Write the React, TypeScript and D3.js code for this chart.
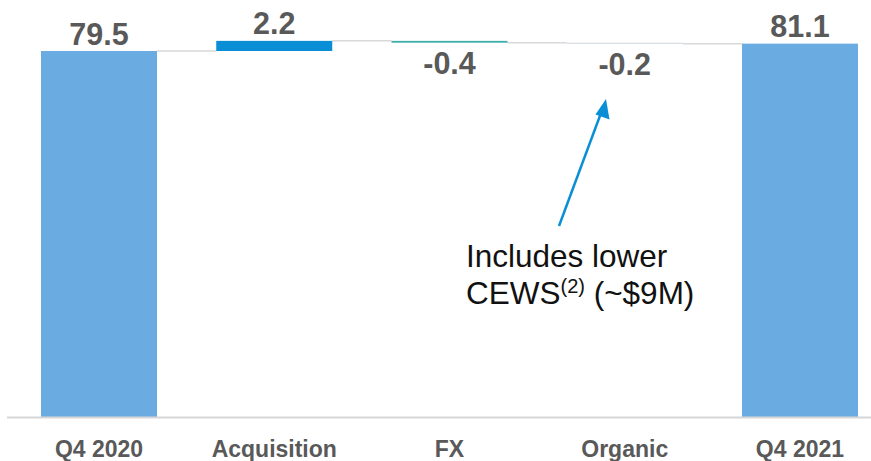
import * as d3 from "d3";

const categories = ["Q4 2020", "Acquisition", "FX", "Organic", "Q4 2021"];
const values = [79.5, 2.2, -0.4, -0.2, 81.1];
const kinds = ["total", "delta", "delta", "delta", "total"];
const labels = ["79.5", "2.2", "-0.4", "-0.2", "81.1"];
const colors = ["#6aabe2", "#0a8fd6", "#3fb0aa", "#d5dde3", "#6aabe2"];

const W = 871;
const H = 461;

export default function App() {
  const x = d3.scaleBand<string>()
    .domain(categories)
    .range([7, 892])
    .paddingInner(0.338)
    .paddingOuter(0.194);

  const y = d3.scaleLinear().domain([0, 79.5]).range([417, 51]);

  // running totals for the waterfall
  let run = 0;
  const bars = categories.map((c, i) => {
    let start, end;
    if (kinds[i] === "total") {
      start = 0;
      end = values[i];
      run = values[i];
    } else {
      start = run;
      end = run + values[i];
      run = end;
    }
    return { c, i, start, end, v: values[i] };
  });

  const labelFont = "'Liberation Sans', Arial, sans-serif";

  return (
    <svg width={W} height={H} style={{ position: "absolute", left: 0, top: 0 }}>
      <rect width={W} height={H} fill="#fff" />
      {/* connectors */}
      {bars.slice(0, -1).map((b, i) => (
        <line
          key={"c" + i}
          x1={x(b.c)! + x.bandwidth()}
          x2={x(categories[i + 1])!}
          y1={y(b.end)}
          y2={y(b.end)}
          stroke="#d9d9d9"
          strokeWidth={1.5}
        />
      ))}
      {bars.map((b) => {
        const y0 = y(Math.max(b.start, b.end));
        const y1 = y(Math.min(b.start, b.end));
        return (
          <rect
            key={b.c}
            x={x(b.c)}
            y={y0}
            width={x.bandwidth()}
            height={Math.max(y1 - y0, 1.2)}
            fill={colors[b.i]}
          />
        );
      })}
      {/* baseline */}
      <line x1={7} x2={W} y1={417.5} y2={417.5} stroke="#d6d6d6" strokeWidth={2} />
      {/* value labels */}
      {bars.map((b) => {
        const cx = x(b.c)! + x.bandwidth() / 2;
        const ty = b.v >= 0 ? y(Math.max(b.start, b.end)) - 6.5 : y(Math.min(b.start, b.end)) + 31.5;
        return (
          <text
            key={"l" + b.c}
            x={cx}
            y={ty}
            textAnchor="middle"
            fontFamily={labelFont}
            fontWeight="bold"
            fontSize={30.5}
            fill="#595959"
          >
            {labels[b.i]}
          </text>
        );
      })}
      {/* category labels */}
      {categories.map((c) => (
        <text
          key={"x" + c}
          x={x(c)! + x.bandwidth() / 2}
          y={457}
          textAnchor="middle"
          fontFamily={labelFont}
          fontWeight="bold"
          fontSize={23}
          fill="#595959"
        >
          {c}
        </text>
      ))}
      {/* annotation */}
      <line x1={559} y1={226} x2={601} y2={113} stroke="#0a8fd6" strokeWidth={2.5} />
      <polygon points="606,99 595.5,114.5 609.5,119.5" fill="#0a8fd6" />
      <text x={466} y={267} fontFamily={labelFont} fontSize={31.5} fill="#111">
        Includes lower
      </text>
      <text x={466} y={304} fontFamily={labelFont} fontSize={31.5} fill="#111">
        CEWS
        <tspan fontSize={20} dy={-11}>(2)</tspan>
        <tspan dy={11}> (~$9M)</tspan>
      </text>
    </svg>
  );
}
